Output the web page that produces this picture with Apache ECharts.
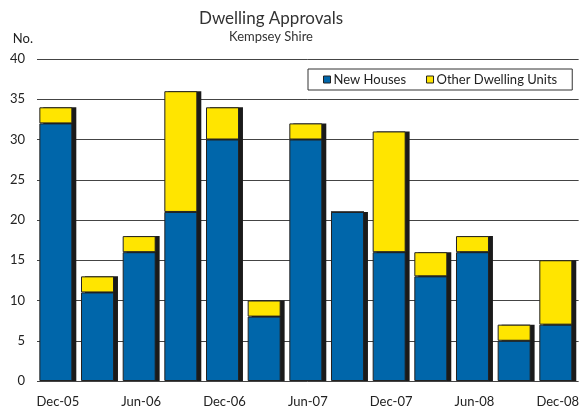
<!DOCTYPE html>
<html>
<head>
<meta charset="utf-8">
<script src="https://cdn.jsdelivr.net/npm/echarts@6/dist/echarts.min.js"></script>
<style>
  html, body { margin: 0; padding: 0; background: #fff; }
  #main { width: 582px; height: 410px; }
</style>
</head>
<body>
<div id="main"></div>
<script>
// quarters, labelled every second one
const categories = ['Dec-05', 'Mar-06', 'Jun-06', 'Sep-06', 'Dec-06', 'Mar-07', 'Jun-07',
  'Sep-07', 'Dec-07', 'Mar-08', 'Jun-08', 'Sep-08', 'Dec-08'];
const newHouses = [32, 11, 16, 21, 30, 8, 30, 21, 16, 13, 16, 5, 7];
const otherUnits = [2, 2, 2, 15, 4, 2, 2, 0, 15, 3, 2, 2, 8];
const yTicks = [0, 5, 10, 15, 20, 25, 30, 35, 40];

// 阴影柱 = 总数
const totals = newHouses.map((v, i) => v + otherUnits[i]);

const fontName = 'Lato';
const chart = echarts.init(document.getElementById('main'));

const barW = 33;

chart.setOption({
  animation: false,
  textStyle: { fontFamily: fontName },
  title: {
    text: 'Dwelling Approvals',
    subtext: 'Kempsey Shire',
    left: 266,
    textAlign: 'center',
    top: 5,
    itemGap: 3,
    textStyle: { fontFamily: fontName, fontSize: 17, fontWeight: 'normal', color: '#333' },
    subtextStyle: { fontFamily: fontName, fontSize: 13, color: '#333' }
  },
  legend: {
    data: ['New Houses', 'Other Dwelling Units'],
    left: 308,
    top: 69,
    itemWidth: 7,
    itemHeight: 7,
    itemGap: 20,
    padding: [4, 15, 4, 15],
    borderColor: '#333',
    borderWidth: 1,
    backgroundColor: '#fff',
    icon: 'rect',
    itemStyle: { borderColor: '#222', borderWidth: 1 },
    textStyle: { fontFamily: fontName, fontSize: 13, color: '#222', padding: [0, 0, 0, -2] }
  },
  grid: { left: 37, right: 0, top: 59, bottom: 29 },
  xAxis: {
    type: 'category',
    data: categories,
    axisLine: { show: false },
    axisTick: { show: false },
    axisLabel: { interval: 1, color: '#222', fontSize: 13, margin: 14 }
  },
  yAxis: {
    type: 'value',
    min: yTicks[0],
    max: yTicks[yTicks.length - 1],
    interval: 5,
    name: 'No.',
    nameLocation: 'end',
    nameGap: 14,
    nameTextStyle: { color: '#222', fontSize: 13, align: 'right', padding: [0, 4, 0, 0] },
    axisLine: { show: false },
    axisTick: { show: false },
    axisLabel: { color: '#222', fontSize: 13, margin: 12 },
    splitLine: { lineStyle: { color: '#444', width: 1 } }
  },
  series: [
    {
      name: 'New Houses',
      type: 'bar',
      stack: 'total',
      z: 3,
      barWidth: barW,
      barGap: '-88%',
      data: newHouses,
      itemStyle: { color: '#0066AA', borderColor: '#222', borderWidth: 1 }
    },
    {
      name: 'shadow',
      type: 'bar',
      stack: 'shadow',
      z: 1,
      barWidth: barW,
      barGap: '-88%',
      silent: true,
      data: totals,
      itemStyle: { color: '#1a1a1a' }
    },
    {
      name: 'Other Dwelling Units',
      type: 'bar',
      stack: 'total',
      z: 3,
      barWidth: barW,
      barGap: '-88%',
      data: otherUnits,
      itemStyle: { color: '#FFE500', borderColor: '#222', borderWidth: 1 }
    }
  ]
});
</script>
</body>
</html>
